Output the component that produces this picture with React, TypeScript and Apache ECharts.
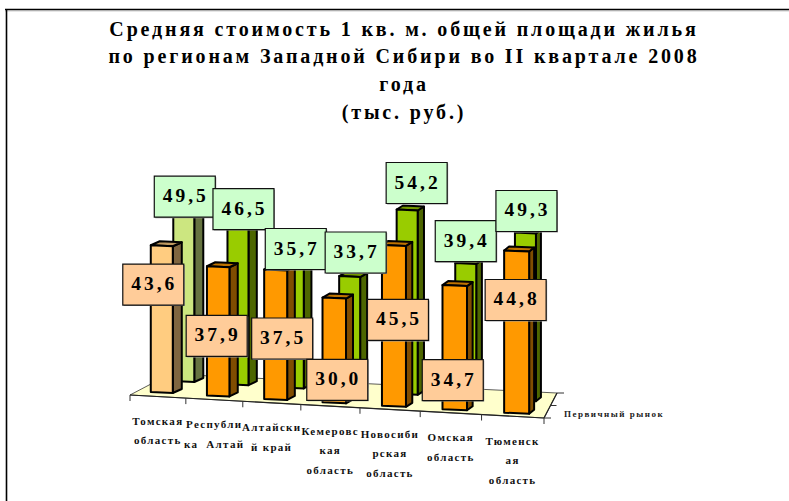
import React, { useEffect, useRef } from "react";
import * as echarts from "echarts";

const titleLines = [
  "Средняя стоимость 1 кв. м. общей площади жилья",
  "по регионам Западной Сибири во II квартале 2008",
  "года",
  "(тыс. руб.)",
];
const categoryLabels = [
  "Томская\nобласть",
  "Республи\nка  Алтай",
  "Алтайски\nй край",
  "Кемеровс\nкая\nобласть",
  "Новосиби\nрская\nобласть",
  "Омская\nобласть",
  "Тюменск\nая\nобласть",
];
const frontSeriesName = "Первичный рынок";
const backSeriesName = "Вторичный рынок";
const frontValues = [43.6, 37.9, 37.5, 30.0, 45.5, 34.7, 44.8];
const backValues = [49.5, 46.5, 35.7, 33.7, 54.2, 39.4, 49.3];

// label box offsets from the top centre of each bar
const frontLabelDx = [-8.5, -1.5, 6.5, 3, 4, -2, -1];
const frontLabelDy = [39.3, 69.7, 69, 82.3, 75, 95, 49.5];
const backLabelDx = [1, 5.5, 2.5, 6, 9.5, 0, 1];
const backLabelDy = [-16, -17, -17, -23.5, -26.5, -22, -21.6];

const SERIF = "'Liberation Serif','Times New Roman',serif";
const fmt = (v: number) => v.toFixed(1).replace(".", ",");

const tickX = (api: any, t: number) => {
  const bw = api.size([1, 0])[0];
  const left = api.coord([0, 0])[0] - bw / 2;
  return left + bw * t - 0.55 * t * (7 - t);
};

function barGeom(api: any, front: boolean) {
  const i = api.value(0);
  const v = api.value(1);
  const y0 = api.coord([i, 0])[1];
  const yv = api.coord([i, v])[1];
  const cx = tickX(api, i + 0.5) + (front ? 4 : 26 - 2.2 * i);
  const base = front ? y0 + 3.45 * i : y0 - 11 + 3.2 * i;
  const factor = front ? 0.99 + 0.0125 * i : 1;
  const top = base - (y0 - yv) * factor;
  const w = front ? 22 + 0.5 * i : 21;
  const s = 9 - 0.67 * i;
  return { i, v, cx, base, top, w, s };
}

const paletteFront = (i: number) =>
  i === 0
    ? { f: "#FFCC80", s: "#806640", t: "#BF9960" }
    : { f: "#FF9900", s: "#804D00", t: "#BF7300" };
const paletteBack = (i: number) =>
  i === 0
    ? { f: "#CCE680", s: "#667340", t: "#99AC60" }
    : { f: "#99CC00", s: "#4D6600", t: "#739900" };

const makeBar = (front: boolean) => (_p: any, api: any) => {
  const { i, cx, base, top, w, s } = barGeom(api, front);
  const c = front ? paletteFront(i) : paletteBack(i);
  const x0 = cx - w / 2;
  const x1 = cx + w / 2;
  const line = { stroke: "#000", lineWidth: 2, lineJoin: "round" };
  const d = 4;
  return {
    type: "group",
    children: [
      {
        type: "polygon",
        shape: { points: [[x1, top + 1], [x1 + s, top - d + 1], [x1 + s, base - d + 1], [x1, base + 1]] },
        style: { fill: c.s, ...line },
      },
      {
        type: "polygon",
        shape: { points: [[x0, top], [x1, top + 1], [x1 + s, top - d + 1], [x0 + s, top - d]] },
        style: { fill: c.t, ...line },
      },
      {
        type: "polygon",
        shape: { points: [[x0, top], [x1, top + 1], [x1, base + 1], [x0, base]] },
        style: { fill: c.f, ...line },
      },
    ],
  };
};

const makeLabel = (front: boolean) => (_p: any, api: any) => {
  const { i, v, cx, top } = barGeom(api, front);
  const lx = cx + (front ? frontLabelDx[i] : backLabelDx[i]);
  const ly = top + (front ? frontLabelDy[i] : backLabelDy[i]);
  const W = 61;
  const H = 41;
  return {
    type: "group",
    children: [
      { type: "rect", shape: { x: lx - W / 2 + 1, y: ly - H / 2 + 1, width: W, height: H }, style: { fill: "#9a9a9a" } },
      {
        type: "rect",
        shape: { x: lx - W / 2, y: ly - H / 2, width: W, height: H },
        style: { fill: front ? "#FFCC99" : "#CCFFCC", stroke: "#111", lineWidth: 1.2 },
      },
      {
        type: "text",
        style: {
          text: fmt(v),
          x: lx + 1,
          y: ly - 1,
          align: "center",
          verticalAlign: "middle",
          fill: "#000",
          fontFamily: SERIF,
          fontWeight: "bold",
          fontSize: 19.5,
        },
      },
    ],
  };
};

const renderFloor = (_p: any, api: any) => {
  const y0 = api.coord([0, 0])[1];
  const xs = [0, 1, 2, 3, 4, 5, 6, 7].map((t) => tickX(api, t));
  const fy = (t: number) => y0 + 3 + (23 * (xs[t] - xs[0])) / (xs[7] - xs[0]);
  const children: any[] = [
    {
      type: "polygon",
      shape: { points: [[xs[0], fy(0)], [xs[7], fy(7)], [xs[7] + 13, y0 + 1], [xs[0] + 40, y0 - 18]] },
      style: { fill: "#FFFFCC", stroke: "#333", lineWidth: 0.8 },
    },
    {
      type: "line",
      shape: { x1: xs[0], y1: fy(0), x2: xs[7], y2: fy(7) },
      style: { stroke: "#222", lineWidth: 1.2 },
    },
    {
      type: "line",
      shape: { x1: xs[7], y1: fy(7), x2: xs[7] + 13, y2: y0 + 1 },
      style: { stroke: "#222", lineWidth: 1.2 },
    },
  ];
  xs.forEach((x, t) =>
    children.push({
      type: "line",
      shape: { x1: x, y1: fy(t), x2: x, y2: fy(t) + 6 },
      style: { stroke: "#333", lineWidth: 1 },
    })
  );
  [
    [0, 26, 7],
    [6.5, 13.5, 6],
    [13, 1, 7],
  ].forEach(([dx, dy, len]) =>
    children.push({
      type: "line",
      shape: { x1: xs[7] + dx, y1: y0 + dy, x2: xs[7] + dx + len, y2: y0 + dy },
      style: { stroke: "#333", lineWidth: 1 },
    })
  );
  return { type: "group", children };
};

const renderCategoryLabels = (_p: any, api: any) => {
  const i = api.value(0);
  const y0 = api.coord([0, 0])[1];
  return {
    type: "text",
    style: {
      text: categoryLabels[i],
      x: tickX(api, i + 0.5),
      y: y0 + 19 + 3.3 * i,
      align: "center",
      verticalAlign: "top",
      fill: "#111",
      fontFamily: SERIF,
      fontWeight: "bold",
      fontSize: 11,
      lineHeight: 19.5,
    },
  };
};

export default function App() {
  const ref = useRef<HTMLDivElement>(null);
  useEffect(() => {
    const chart = echarts.init(ref.current!, undefined, { renderer: "svg" });
    const frontData = frontValues.map((v, i) => [i, v]);
    const backData = backValues.map((v, i) => [i, v]);
    const custom = (name: string, renderItem: any, data: any[]) => ({
      type: "custom",
      name,
      renderItem,
      data,
      clip: false,
      silent: true,
      encode: { x: 0, y: 1 },
    });
    chart.setOption({
      animation: false,
      backgroundColor: "#fff",
      title: {
        text: titleLines.join("\n"),
        left: 399,
        top: 10,
        textAlign: "center",
        textStyle: { fontFamily: SERIF, fontWeight: "bold", fontSize: 20, lineHeight: 27.6, color: "#000" },
      },
      grid: { left: 130, width: 414, top: 188, height: 204 },
      xAxis: { type: "category", data: categoryLabels, show: false },
      yAxis: { type: "value", min: 0, max: 60, show: false },
      graphic: [
        { type: "line", shape: { x1: 5, y1: 9.5, x2: 789, y2: 9.5 }, style: { stroke: "#000", lineWidth: 1.6 } },
        { type: "line", shape: { x1: 5, y1: 10.8, x2: 789, y2: 10.8 }, style: { stroke: "#aaa", lineWidth: 1 } },
        { type: "line", shape: { x1: 6.5, y1: 9, x2: 6.5, y2: 501 }, style: { stroke: "#000", lineWidth: 1.6 } },
        {
          type: "text",
          left: 564,
          top: 409,
          style: { text: frontSeriesName, fontFamily: SERIF, fontWeight: "bold", fontSize: 9, fill: "#222" },
        },
      ],
      series: [
        custom("floor", renderFloor, [[0, 0]]),
        custom(backSeriesName, makeBar(false), backData),
        custom(frontSeriesName, makeBar(true), frontData),
        custom(backSeriesName + " подписи", makeLabel(false), backData),
        custom(frontSeriesName + " подписи", makeLabel(true), frontData),
        custom("категории", renderCategoryLabels, frontData),
      ],
    });
    ref.current!.querySelectorAll("text").forEach((el) => {
      const fs = parseFloat(getComputedStyle(el).fontSize);
      (el as any).style.letterSpacing = (fs === 20 ? 2.85 : fs > 15 ? 3 : fs >= 10 ? 1.3 : 1.5) + "px";
    });
    return () => chart.dispose();
  }, []);
  return <div ref={ref} style={{ position: "absolute", left: 0, top: 0, width: 789, height: 501 }} />;
}
